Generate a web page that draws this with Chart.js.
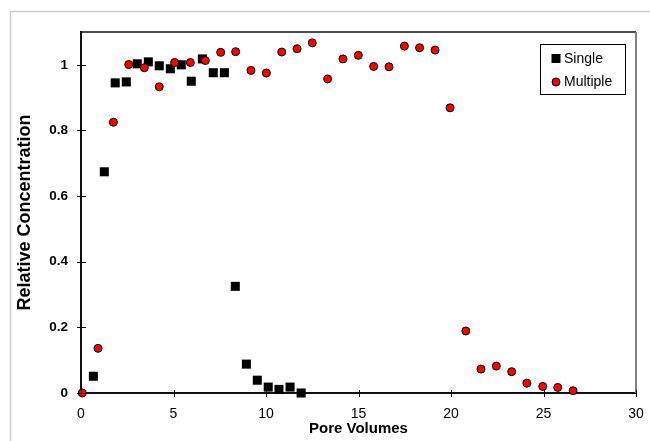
<!DOCTYPE html>
<html>
<head>
<meta charset="utf-8">
<script src="https://cdn.jsdelivr.net/npm/chart.js@4.4.1/dist/chart.umd.min.js"></script>
<style>
  html, body { margin: 0; padding: 0; background: #fff; }
  #wrap { width: 650px; height: 441px; position: relative; }
</style>
</head>
<body>
<div id="wrap"><canvas id="c" width="650" height="441"></canvas></div>
<script>
const singleX = [0.67, 1.26, 1.85, 2.45, 3.04, 3.64, 4.23, 4.83, 5.42, 5.96, 6.56, 7.15, 7.75, 8.34, 8.94, 9.53, 10.12, 10.7, 11.3, 11.9];
const singleY = [0.051, 0.674, 0.945, 0.948, 1.003, 1.009, 0.997, 0.988, 1.0, 0.95, 1.018, 0.976, 0.976, 0.325, 0.088, 0.039, 0.018, 0.011, 0.018, 0.0];
const multipleX = [0.07, 0.92, 1.75, 2.58, 3.42, 4.23, 5.06, 5.91, 6.72, 7.55, 8.36, 9.19, 10.02, 10.85, 11.68, 12.5, 13.33, 14.16, 14.99, 15.82, 16.65, 17.48, 18.3, 19.14, 19.95, 20.8, 21.62, 22.45, 23.28, 24.1, 24.96, 25.77, 26.6];
const multipleY = [0, 0.136, 0.825, 1.001, 0.991, 0.933, 1.007, 1.007, 1.013, 1.038, 1.04, 0.983, 0.975, 1.039, 1.049, 1.067, 0.957, 1.018, 1.029, 0.995, 0.994, 1.057, 1.052, 1.045, 0.869, 0.189, 0.073, 0.082, 0.065, 0.030, 0.02, 0.017, 0.007];
const seriesNames = ['Single', 'Multiple'];
const xTitle = 'Pore Volumes';
const yTitle = 'Relative Concentration';
const yTickValues = [0, 0.2, 0.4, 0.6, 0.8, 1];
const xTickValues = [0, 5, 10, 15, 20, 25, 30];

const FONT = "'Liberation Sans', Arial, sans-serif";
const toPts = (xs, ys) => xs.map((x, i) => ({ x: x, y: ys[i] }));

const decor = {
  id: 'decor',
  beforeDraw(chart) {
    const ctx = chart.ctx;
    ctx.save();
    ctx.strokeStyle = '#cccccc';
    ctx.lineWidth = 1.5;
    ctx.beginPath();
    ctx.moveTo(10.5, 441);
    ctx.lineTo(10.5, 11.5);
    ctx.lineTo(650, 11.5);
    ctx.stroke();
    ctx.restore();
  },
  afterDraw(chart) {
    const ctx = chart.ctx;
    const a = chart.chartArea;
    const xs = chart.scales.x, ys = chart.scales.y;
    ctx.save();
    ctx.strokeStyle = '#111';
    ctx.lineWidth = 1.5;
    ctx.beginPath();
    ctx.moveTo(a.left, a.top);
    ctx.lineTo(a.right, a.top);
    ctx.stroke();
    ctx.strokeStyle = '#808080';
    ctx.lineWidth = 2;
    ctx.beginPath();
    ctx.moveTo(a.right, a.top);
    ctx.lineTo(a.right, a.bottom);
    ctx.stroke();
    ctx.strokeStyle = '#111';
    ctx.lineWidth = 1;
    ys.ticks.forEach(t => {
      const py = Math.round(ys.getPixelForValue(t.value)) + 0.5;
      ctx.beginPath();
      ctx.moveTo(a.left - 4, py);
      ctx.lineTo(a.left + 5, py);
      ctx.stroke();
    });
    xs.ticks.forEach(t => {
      const px = Math.round(xs.getPixelForValue(t.value)) + 0.5;
      ctx.beginPath();
      ctx.moveTo(px, a.bottom - 3);
      ctx.lineTo(px, a.bottom + 4);
      ctx.stroke();
    });
    const lx = 540.5, ly = 44.5, lw = 85, lh = 50;
    ctx.fillStyle = '#fff';
    ctx.fillRect(lx, ly, lw, lh);
    ctx.strokeStyle = '#000';
    ctx.lineWidth = 1;
    ctx.strokeRect(lx, ly, lw, lh);
    ctx.font = '14px ' + FONT;
    ctx.textBaseline = 'middle';
    ctx.textAlign = 'left';
    ctx.fillStyle = '#000';
    ctx.fillRect(551.5, 54, 9, 9);
    ctx.fillText(chart.data.datasets[0].label, 564, 59);
    ctx.beginPath();
    ctx.arc(556, 82, 4, 0, Math.PI * 2);
    ctx.fillStyle = '#ff0000';
    ctx.fill();
    ctx.strokeStyle = '#000';
    ctx.lineWidth = 1;
    ctx.stroke();
    ctx.fillStyle = '#000';
    ctx.fillText(chart.data.datasets[1].label, 564, 82);
    ctx.restore();
  }
};

new Chart(document.getElementById('c'), {
  type: 'scatter',
  data: {
    datasets: [
      {
        label: seriesNames[0],
        data: toPts(singleX, singleY),
        pointStyle: 'rect',
        pointRadius: 6.4,
        backgroundColor: '#000',
        borderColor: '#000',
        borderWidth: 0,
        order: 1,
        clip: false
      },
      {
        label: seriesNames[1],
        data: toPts(multipleX, multipleY),
        pointStyle: 'circle',
        pointRadius: 4,
        backgroundColor: '#ff0000',
        borderColor: '#000',
        borderWidth: 1,
        order: 0,
        clip: false
      }
    ]
  },
  options: {
    responsive: false,
    animation: false,
    layout: { padding: { left: 10, right: 14, top: 32, bottom: 0 } },
    plugins: { legend: { display: false }, tooltip: { enabled: false } },
    scales: {
      x: {
        type: 'linear',
        min: 0, max: 30,
        afterBuildTicks: s => { s.ticks = xTickValues.map(v => ({ value: v })); },
        afterFit: s => { s.height = 48; s.paddingLeft = 0; s.paddingRight = 0; },
        grid: { display: false, drawTicks: false },
        border: { display: true, color: '#111', width: 2 },
        ticks: {
          padding: 13,
          color: '#000',
          font: { family: FONT, size: 14 },
          callback: v => String(v)
        },
        title: {
          display: true, text: xTitle, color: '#000',
          font: { family: FONT, size: 15, weight: 'bold' },
          padding: { top: 0, bottom: 3 }
        }
      },
      y: {
        type: 'linear',
        min: 0, max: 1.1,
        afterBuildTicks: s => { s.ticks = yTickValues.map(v => ({ value: v })); },
        afterFit: s => { s.width = 71; s.paddingTop = 0; s.paddingBottom = 0; },
        grid: { display: false, drawTicks: false },
        border: { display: true, color: '#111', width: 2 },
        ticks: {
          padding: 13,
          color: '#000',
          font: { family: FONT, size: 13.5, weight: 'bold' },
          callback: v => String(+v.toFixed(1))
        },
        title: {
          display: true, text: yTitle, color: '#000',
          font: { family: FONT, size: 18, weight: 'bold' },
          padding: { top: 4, bottom: 0 }
        }
      }
    }
  },
  plugins: [decor]
});
</script>
</body>
</html>
